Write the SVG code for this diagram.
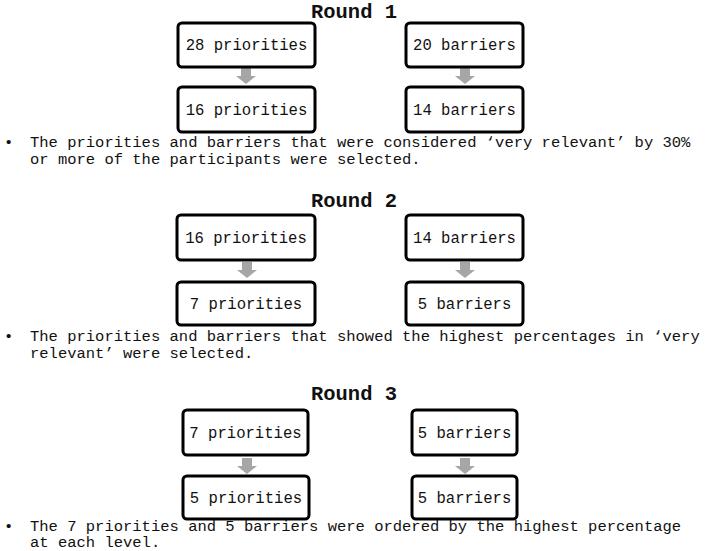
<svg xmlns="http://www.w3.org/2000/svg" width="708" height="551" viewBox="0 0 708 551">
<style>
.box{fill:#fff;stroke:#000;stroke-width:3}
.bt{font-family:"Liberation Mono","Courier New",monospace;font-size:15.6px;text-anchor:middle;fill:#111}
.tt{font-family:"Liberation Mono","Courier New",monospace;font-size:20.5px;font-weight:bold;text-anchor:middle;fill:#111}
.nt{font-family:"Liberation Mono","Courier New",monospace;font-size:15.5px;fill:#111}
.ar{fill:#a6a6a6}
</style>
<defs>
<path id="arr" d="M-5,0 H5 V8 H10 L0,16 L-10,8 H-5 Z"/>
</defs>
<rect width="708" height="551" fill="#fff"/>
<text class="tt" x="354" y="17.5">Round 1</text>
<text class="tt" x="354" y="207">Round 2</text>
<text class="tt" x="354" y="400">Round 3</text>
<g id="connectors">
<use href="#arr" class="ar" x="246" y="68"/>
<use href="#arr" class="ar" x="465" y="68"/>
<use href="#arr" class="ar" x="247" y="262"/>
<use href="#arr" class="ar" x="465" y="262"/>
<use href="#arr" class="ar" x="247" y="458"/>
<use href="#arr" class="ar" x="465" y="458"/>
</g>
<g id="r1p1"><rect class="box" x="178" y="23" width="137" height="44" rx="4"/><text class="bt" x="246.5" y="50">28 priorities</text></g>
<g id="r1b1"><rect class="box" x="406" y="23" width="117" height="44" rx="4"/><text class="bt" x="464.5" y="50">20 barriers</text></g>
<g id="r1p2"><rect class="box" x="178" y="87" width="137" height="45" rx="4"/><text class="bt" x="246.5" y="115">16 priorities</text></g>
<g id="r1b2"><rect class="box" x="406" y="87" width="117" height="45" rx="4"/><text class="bt" x="464.5" y="115">14 barriers</text></g>
<g id="note1">
<text class="nt" x="4" y="147">•</text>
<text class="nt" x="30" y="147">The priorities and barriers that were considered ‘very relevant’ by 30%</text>
<text class="nt" x="30" y="164">or more of the participants were selected.</text>
</g>
<g id="r2p1"><rect class="box" x="177" y="215" width="138" height="45" rx="4"/><text class="bt" x="246" y="243">16 priorities</text></g>
<g id="r2b1"><rect class="box" x="406" y="215" width="117" height="45" rx="4"/><text class="bt" x="464.5" y="243">14 barriers</text></g>
<g id="r2p2"><rect class="box" x="177" y="282" width="138" height="43" rx="4"/><text class="bt" x="246" y="309">7 priorities</text></g>
<g id="r2b2"><rect class="box" x="406" y="282" width="117" height="43" rx="4"/><text class="bt" x="464.5" y="309">5 barriers</text></g>
<g id="note2">
<text class="nt" x="4" y="341">•</text>
<text class="nt" x="30" y="341">The priorities and barriers that showed the highest percentages in ‘very</text>
<text class="nt" x="30" y="358">relevant’ were selected.</text>
</g>
<g id="r3p1"><rect class="box" x="183" y="410" width="125" height="45" rx="4"/><text class="bt" x="245.5" y="438">7 priorities</text></g>
<g id="r3b1"><rect class="box" x="412" y="410" width="105" height="45" rx="4"/><text class="bt" x="464.5" y="438">5 barriers</text></g>
<g id="r3p2"><rect class="box" x="183" y="476" width="126" height="43" rx="4"/><text class="bt" x="246" y="503">5 priorities</text></g>
<g id="r3b2"><rect class="box" x="412" y="476" width="105" height="43" rx="4"/><text class="bt" x="464.5" y="503">5 barriers</text></g>
<g id="note3">
<text class="nt" x="4" y="530.5">•</text>
<text class="nt" x="30" y="530.5">The 7 priorities and 5 barriers were ordered by the highest percentage</text>
<text class="nt" x="30" y="547">at each level.</text>
</g>
</svg>
